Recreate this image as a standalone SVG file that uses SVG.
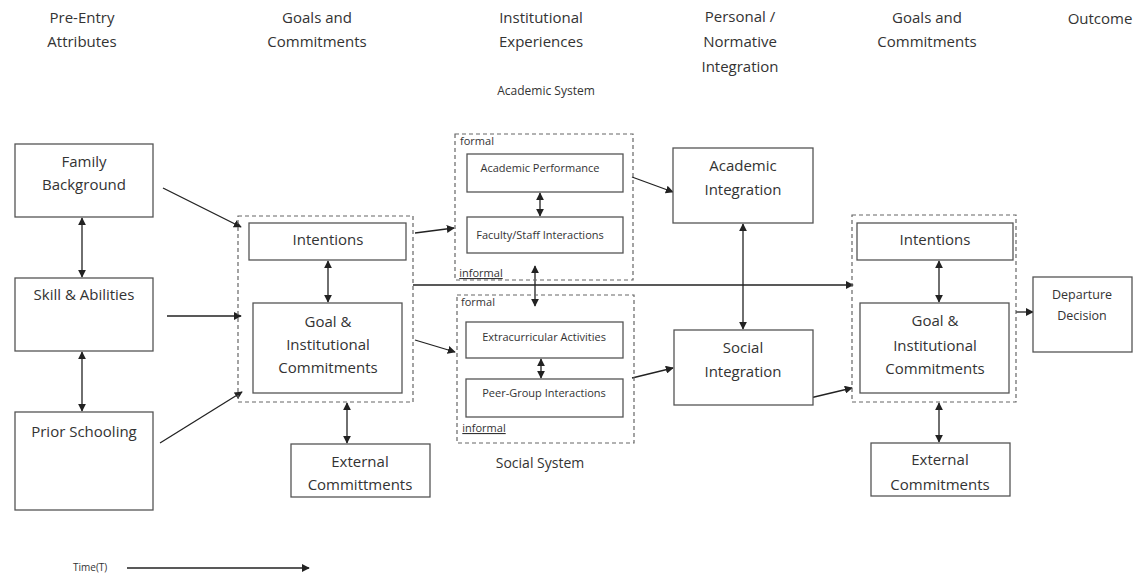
<svg xmlns="http://www.w3.org/2000/svg" width="1139" height="576" viewBox="0 0 1139 576">
<defs>
<marker id="ah" viewBox="0 0 10 10" refX="9" refY="5" markerWidth="8" markerHeight="8" markerUnits="userSpaceOnUse" orient="auto-start-reverse">
<path d="M0,0 L10,5 L0,10 z" fill="#222"/>
</marker>
<style>
text{font-family:"Open Sans","Liberation Sans",sans-serif;fill:#333;text-anchor:middle}
.h{font-size:15px}
.n{font-size:15px}
.s{font-size:11px}
.m{font-size:12px}
.box{fill:#fff;stroke:#555;stroke-width:1.3}
.grp{fill:none;stroke:#666;stroke-width:1.2;stroke-dasharray:4 3}
.c{fill:none;stroke:#222;stroke-width:1.3}
.a{marker-end:url(#ah)}
.b{marker-start:url(#ah);marker-end:url(#ah)}
</style>
</defs>
<rect width="1139" height="576" fill="#fff"/>

<g id="headers">
<text class="h" x="82" y="23">Pre-Entry</text>
<text class="h" x="82" y="47">Attributes</text>
<text class="h" x="317" y="23">Goals and</text>
<text class="h" x="317" y="47">Commitments</text>
<text class="h" x="541" y="23">Institutional</text>
<text class="h" x="541" y="47">Experiences</text>
<text class="h" x="740" y="22">Personal /</text>
<text class="h" x="740" y="47">Normative</text>
<text class="h" x="740" y="72">Integration</text>
<text class="h" x="927" y="23">Goals and</text>
<text class="h" x="927" y="47">Commitments</text>
<text class="h" x="1100" y="24">Outcome</text>
<text class="m" x="546" y="95">Academic System</text>
</g>

<g id="connectors">
<line class="c b" x1="82" y1="218" x2="82" y2="277"/>
<line class="c b" x1="82" y1="352" x2="82" y2="411"/>
<line class="c a" x1="163" y1="188" x2="241" y2="227"/>
<line class="c a" x1="167" y1="316" x2="241" y2="316"/>
<line class="c a" x1="160" y1="443" x2="242" y2="392"/>
<line class="c b" x1="328" y1="261" x2="328" y2="302"/>
<line class="c b" x1="347" y1="403" x2="347" y2="443"/>
<line class="c a" x1="415" y1="233" x2="454" y2="228"/>
<line class="c a" x1="415" y1="340" x2="455" y2="352"/>
<line class="c a" x1="413" y1="285" x2="853" y2="285"/>
<line class="c b" x1="540" y1="193" x2="540" y2="216"/>
<line class="c b" x1="535" y1="266" x2="535" y2="306"/>
<line class="c b" x1="541" y1="359" x2="541" y2="378"/>
<line class="c a" x1="632" y1="177" x2="673" y2="192"/>
<line class="c a" x1="632" y1="378" x2="673" y2="368"/>
<line class="c b" x1="743" y1="224" x2="743" y2="329"/>
<line class="c a" x1="810" y1="398" x2="852" y2="388"/>
<line class="c b" x1="939" y1="261" x2="939" y2="302"/>
<line class="c b" x1="939" y1="403" x2="939" y2="442"/>
<line class="c a" x1="1016" y1="312" x2="1033" y2="312"/>
<line class="c a" x1="127" y1="568" x2="309" y2="568"/>
</g>

<g id="family-background">
<rect class="box" x="15" y="144" width="138" height="73"/>
<text class="n" x="84" y="167">Family</text>
<text class="n" x="84" y="190">Background</text>
</g>
<g id="skill-abilities">
<rect class="box" x="15" y="278" width="138" height="73"/>
<text class="n" x="84" y="300">Skill &amp; Abilities</text>
</g>
<g id="prior-schooling">
<rect class="box" x="15" y="412" width="138" height="98"/>
<text class="n" x="84" y="437">Prior Schooling</text>
</g>

<g id="goals-group-1">
<rect class="grp" x="238" y="216" width="175" height="186"/>
</g>
<g id="intentions-1">
<rect class="box" x="249" y="223" width="157" height="37"/>
<text class="n" x="328" y="245">Intentions</text>
</g>
<g id="goal-commitments-1">
<rect class="box" x="253" y="303" width="149" height="90"/>
<text class="n" x="328" y="327">Goal &amp;</text>
<text class="n" x="328" y="350">Institutional</text>
<text class="n" x="328" y="373">Commitments</text>
</g>
<g id="external-1">
<rect class="box" x="291" y="444" width="139" height="53"/>
<text class="n" x="360" y="467">External</text>
<text class="n" x="360" y="490">Committments</text>
</g>

<g id="academic-system">
<rect class="grp" x="455" y="134" width="178" height="146"/>
<text class="s" x="477" y="145">formal</text>
<text class="s" x="481" y="277" text-decoration="underline">informal</text>
</g>
<g id="academic-performance">
<rect class="box" x="467" y="154" width="156" height="38"/>
<text class="s" x="540" y="172">Academic Performance</text>
</g>
<g id="faculty-staff">
<rect class="box" x="467" y="217" width="156" height="36"/>
<text class="s" x="540" y="239">Faculty/Staff Interactions</text>
</g>

<g id="social-system">
<rect class="grp" x="457" y="295" width="177" height="148"/>
<text class="s" x="478" y="306">formal</text>
<text class="s" x="484" y="432" text-decoration="underline">informal</text>
<text style="font-size:14px" x="540" y="468">Social System</text>
</g>
<g id="extracurricular">
<rect class="box" x="466" y="322" width="157" height="36"/>
<text class="s" x="544" y="341">Extracurricular Activities</text>
</g>
<g id="peer-group">
<rect class="box" x="466" y="379" width="157" height="38"/>
<text class="s" x="544" y="397">Peer-Group Interactions</text>
</g>

<g id="academic-integration">
<rect class="box" x="673" y="148" width="140" height="75"/>
<text class="n" x="743" y="171">Academic</text>
<text class="n" x="743" y="195">Integration</text>
</g>
<g id="social-integration">
<rect class="box" x="674" y="330" width="139" height="75"/>
<text class="n" x="743" y="353">Social</text>
<text class="n" x="743" y="377">Integration</text>
</g>

<g id="goals-group-2">
<rect class="grp" x="852" y="215" width="164" height="187"/>
</g>
<g id="intentions-2">
<rect class="box" x="857" y="223" width="156" height="37"/>
<text class="n" x="935" y="245">Intentions</text>
</g>
<g id="goal-commitments-2">
<rect class="box" x="860" y="303" width="149" height="90"/>
<text class="n" x="935" y="326">Goal &amp;</text>
<text class="n" x="935" y="351">Institutional</text>
<text class="n" x="935" y="374">Commitments</text>
</g>
<g id="external-2">
<rect class="box" x="871" y="443" width="139" height="53"/>
<text class="n" x="940" y="465">External</text>
<text class="n" x="940" y="490">Commitments</text>
</g>
<g id="departure-decision">
<rect class="box" x="1033" y="277" width="99" height="75"/>
<text style="font-size:12.5px" x="1082" y="299">Departure</text>
<text style="font-size:12.5px" x="1082" y="320">Decision</text>
</g>

<g id="time">
<text style="font-size:10px;text-anchor:start" x="73" y="571">Time(T)</text>
</g>
</svg>
